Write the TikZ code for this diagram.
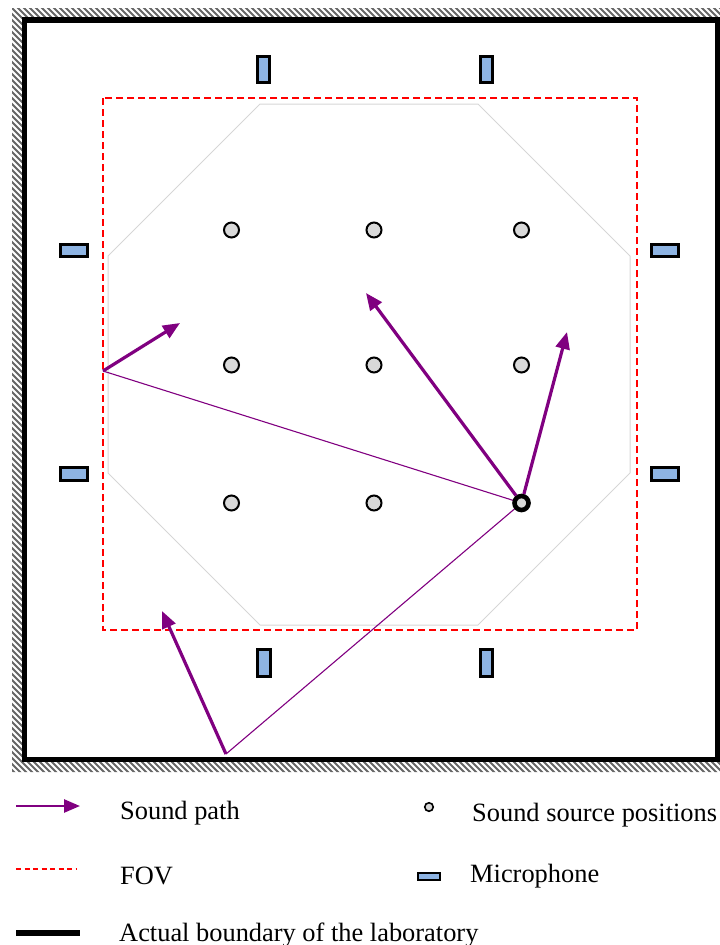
\documentclass[tikz,border=0pt]{standalone}
\usepackage{fontspec}
\setmainfont{Liberation Serif}
\usetikzlibrary{arrows.meta}
\definecolor{pathpurple}{HTML}{800080}
\definecolor{micblue}{HTML}{8EB4E3}
\definecolor{srcgray}{HTML}{D9D9D9}
\definecolor{octgray}{HTML}{D6D6D6}
\definecolor{fovred}{HTML}{FF0000}
\begin{document}
\begin{tikzpicture}[x=1pt,y=-1pt,
  src/.style={circle,draw=black,fill=srcgray,line width=2pt,minimum size=15pt,inner sep=0pt},
  srcbold/.style={circle,draw=black,fill=srcgray,line width=4.6pt,minimum size=14pt,inner sep=0pt},
  micv/.style={rectangle,draw=black,fill=micblue,line width=2.6pt,minimum width=12.5pt,minimum height=26.5pt,inner sep=0pt},
  mich/.style={rectangle,draw=black,fill=micblue,line width=2.6pt,minimum width=27.5pt,minimum height=12.5pt,inner sep=0pt},
  soundpath/.style={draw=pathpurple,line width=3.2pt,-{Triangle[length=17pt,width=14pt]}},
  reflect/.style={draw=pathpurple,line width=1.1pt},
  fov/.style={draw=fovred,line width=2.2pt,dash pattern=on 7pt off 4pt},
  wall/.style={draw=black,line width=5.5pt},
  legtext/.style={anchor=base west,inner sep=0pt,font=\fontsize{26.4}{30}\selectfont},
]
\useasboundingbox (0,0) rectangle (720,945);

% hatched band outside the laboratory walls
\begin{scope}[even odd rule]
  \clip (12,8) rectangle (730,772) (22,17) rectangle (720,762);
  \foreach \i in {-800,-794,...,740}
    \draw[black!60,line width=2pt] (\i,0) -- ++(800,800);
\end{scope}

% laboratory walls
\draw[wall] (24.5,20) rectangle (717.5,759.5);

% octagonal region
\draw[octgray,line width=1pt] (260,104) -- (478,104) -- (630,256) -- (630,473)
  -- (478,625) -- (260,625) -- (108,473) -- (108,256) -- cycle;

% field of view
\draw[fov] (103,98) rectangle (637,630);

% microphones
\node[micv] (m1) at (263.5,69.5) {};
\node[micv] (m2) at (486.5,69.5) {};
\node[micv] (m3) at (264,663) {};
\node[micv] (m4) at (486.5,663) {};
\node[mich] (m5) at (74,250.5) {};
\node[mich] (m6) at (74,474) {};
\node[mich] (m7) at (665,250.5) {};
\node[mich] (m8) at (665,474) {};

% sound source positions
\node[src] (s11) at (231.5,230) {};
\node[src] (s12) at (374,230) {};
\node[src] (s13) at (521.5,230) {};
\node[src] (s21) at (231.5,365) {};
\node[src] (s22) at (374,365) {};
\node[src] (s23) at (521.5,365) {};
\node[src] (s31) at (231.5,503) {};
\node[src] (s32) at (374,503) {};

% reflection points and arrow ends
\coordinate (rl) at (103,371);
\coordinate (rb) at (226,754);
\coordinate (a1) at (366,293);
\coordinate (a2) at (567,332);
\coordinate (a3) at (180,323);
\coordinate (a4) at (162,611);

% sound paths
\draw[reflect] (521.5,503) -- (rl);
\draw[reflect] (521.5,503) -- (rb);
\draw[soundpath] (rl) -- (a3);
\draw[soundpath] (rb) -- (a4);
\node[srcbold] (s33) at (521.5,503) {};
\draw[soundpath] (s33) -- (a1);
\draw[soundpath] (s33) -- (a2);

% legend
\coordinate (l1a) at (16,806);
\coordinate (l1b) at (80,806);
\draw[draw=pathpurple,line width=2.6pt,-{Triangle[length=16pt,width=13pt]}] (l1a) -- (l1b);
\node[legtext] (t1) at (120,819) {Sound path};

\coordinate (l2a) at (16,869);
\coordinate (l2b) at (77,869);
\draw[draw=fovred,line width=1.4pt,dash pattern=on 5pt off 3.5pt] (l2a) -- (l2b);
\node[legtext] (t2) at (120,884) {FOV};

\coordinate (l3a) at (16,933);
\coordinate (l3b) at (80,933);
\draw[wall] (l3a) -- (l3b);
\node[legtext] (t3) at (119,941) {Actual boundary of the laboratory};

\node[circle,draw=black,fill=srcgray,line width=1.6pt,minimum size=8.5pt,inner sep=0pt] (ls) at (429,807) {};
\node[legtext] (t4) at (472,821) {Sound source positions};

\node[rectangle,draw=black,fill=micblue,line width=1.8pt,minimum width=21.5pt,minimum height=7pt,inner sep=0pt] (lm) at (429,876.5) {};
\node[legtext] (t5) at (470,882) {Microphone};
\end{tikzpicture}
\end{document}
